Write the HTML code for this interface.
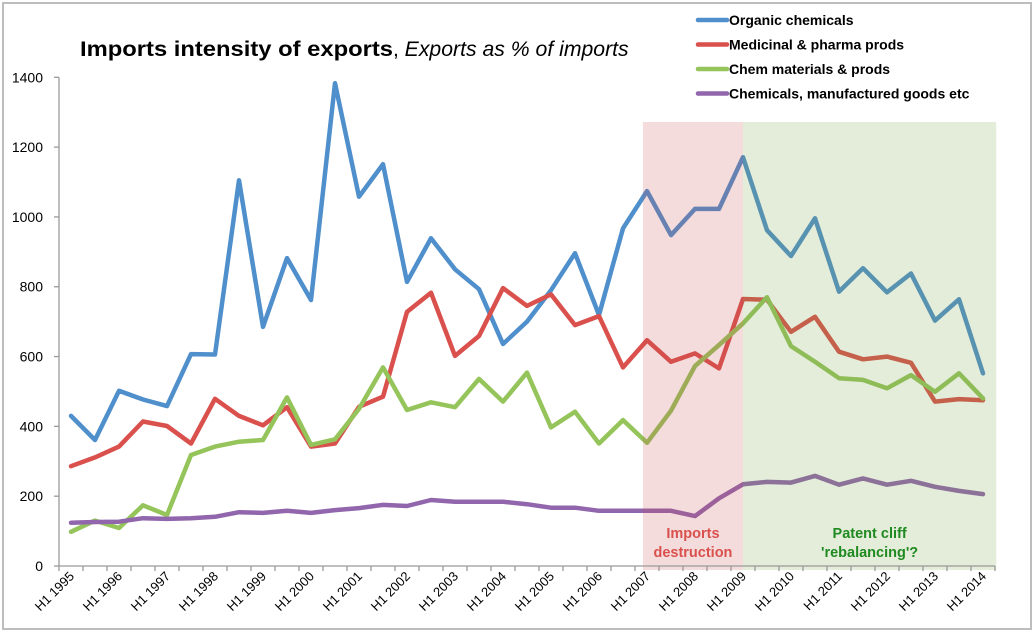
<!DOCTYPE html>
<html><head><meta charset="utf-8"><style>
html,body{margin:0;padding:0;background:#fff;}
svg{display:block;font-family:"Liberation Sans",Arial,sans-serif;}
</style></head><body>
<svg id="chart" width="1035" height="634" viewBox="0 0 1035 634">
<rect x="3" y="3" width="1028" height="626" fill="#fff" stroke="#bdbdbd" stroke-width="2"/>
<text x="80" y="56" font-size="21" fill="#000"><tspan font-weight="bold" textLength="313" lengthAdjust="spacingAndGlyphs">Imports intensity of exports</tspan><tspan>, </tspan><tspan font-style="italic" textLength="224" lengthAdjust="spacingAndGlyphs">Exports as % of imports</tspan></text>
<g id="grid"></g>
<g id="series"></g>
<g id="bands"></g>
<g id="axes"></g>
<g id="legend"></g>
</svg>
<script>
const categories = [];
for (let y = 1995; y <= 2014; y++) { categories.push('H1 ' + y); if (y < 2014) categories.push('H2 ' + y); }
const organic = [430,361,502,477,458,607,606,1105,685,882,762,1383,1058,1151,814,939,850,793,636,700,790,896,719,967,1074,948,1023,1023,1171,962,888,996,786,853,784,838,703,764,552];
const medicinal = [286,311,342,414,401,351,479,430,403,455,342,351,456,485,728,783,602,659,796,745,778,690,716,569,647,585,609,566,765,763,671,714,614,592,600,582,471,478,475];
const chemMaterials = [98,130,109,174,146,318,342,356,361,483,347,363,450,569,447,469,455,536,471,554,397,442,351,418,353,445,573,633,695,770,630,585,538,533,509,547,499,552,480];
const chemManuf = [124,126,127,137,135,137,141,154,152,158,152,160,166,175,172,189,184,184,184,177,167,167,158,158,158,158,143,194,234,241,239,258,233,251,233,244,227,215,206];
const yTicks = [0,200,400,600,800,1000,1200,1400];
const seriesNames = ['Organic chemicals','Medicinal & pharma prods','Chem materials & prods','Chemicals, manufactured goods etc'];
const seriesColors = ['#4f8fcb','#d9504d','#94c45a','#9166ad'];
const bandStart = [24.33, 28.5];
const bandEnd = [28.5, 39.05];
const bandLabels = [['Imports','destruction'],["Patent cliff","'rebalancing'?"]];

const NS = 'http://www.w3.org/2000/svg';
const X0 = 59, CW = 24, Y0 = 566, Y1 = 77.3, YMAX = 1400;
function xPos(i){ return X0 + CW*(i+0.5); }
function yPos(v){ return Y0 - (Y0-Y1)*v/YMAX; }
function mk(tag, attrs, parent){ const e=document.createElementNS(NS,tag); for(const k in attrs) e.setAttribute(k, attrs[k]); parent.appendChild(e); return e; }

const axes = document.getElementById('axes');
const series = document.getElementById('series');
const bands = document.getElementById('bands');
const legend = document.getElementById('legend');

let yl = mk('line',{x1:X0,y1:Y1,x2:X0,y2:Y0,stroke:'#9a9a9a','stroke-width':1.3},axes);


yTicks.forEach(t=>{
  const y = yPos(t);
  const tk = mk('line',{x1:X0-5,y1:y,x2:X0,y2:y,stroke:'#9a9a9a','stroke-width':1.3},axes);
  
  
  const tx = mk('text',{x:X0-16,y:y+5,'text-anchor':'end','font-size':14,fill:'#000'},axes);
  tx.textContent = t;
  
  
});
let xl = mk('line',{x1:X0,y1:Y0,x2:X0+CW*categories.length,y2:Y0,stroke:'#9a9a9a','stroke-width':1.3},axes);


for(let i=0;i<=categories.length;i++){
  const tk = mk('line',{x1:X0+CW*i,y1:Y0,x2:X0+CW*i,y2:Y0+5,stroke:'#9a9a9a','stroke-width':1.3},axes);
  
  
}
categories.forEach((c,i)=>{
  if(i%2) return;
  const x = xPos(i)+4, y = Y0+11;
  const tx = mk('text',{x:x,y:y,'text-anchor':'end','font-size':13,fill:'#000',transform:`rotate(-45 ${x} ${y})`},axes);
  tx.textContent = c;
  
  
});

[organic, medicinal, chemMaterials, chemManuf].forEach((data,s)=>{
  const pts = data.map((v,i)=>xPos(i).toFixed(1)+','+yPos(v).toFixed(1)).join(' ');
  const pl = mk('polyline',{points:pts,fill:'none',stroke:seriesColors[s],'stroke-width':4.5,'stroke-linejoin':'round','stroke-linecap':'round'},series);
  
  
});

const bandFill = ['rgba(200,80,80,0.2)','rgba(120,160,70,0.2)'];
const bandText = ['#d9504d','#1f8a1f'];
bandStart.forEach((b,k)=>{
  const xa = X0+CW*b, xb = X0+CW*bandEnd[k];
  const r = mk('rect',{x:xa,y:122,width:xb-xa,height:448,fill:bandFill[k]},bands);
  
  
  const cx = (xa+xb)/2;
  bandLabels[k].forEach((line,j)=>{
    const t = mk('text',{x:cx,y:538+j*19,'text-anchor':'middle','font-size':14.5,'font-weight':'bold',fill:bandText[k]},bands);
    t.textContent = line;
    
    
  });
});

seriesNames.forEach((n,s)=>{
  const y = 20 + s*24.5;
  const ln = mk('line',{x1:698,y1:y,x2:727,y2:y,stroke:seriesColors[s],'stroke-width':4.5,'stroke-linecap':'round'},legend);
  
  
  const t = mk('text',{x:729,y:y+5,'font-size':14,'font-weight':'bold',fill:'#000'},legend);
  t.textContent = n;
  
  
});
</script>
</body></html>
